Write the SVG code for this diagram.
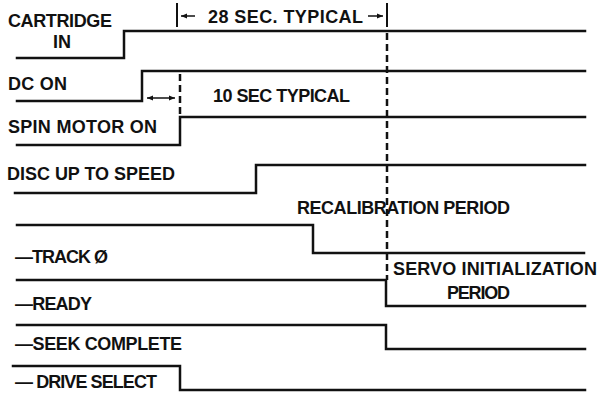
<svg xmlns="http://www.w3.org/2000/svg" width="601" height="393" viewBox="0 0 601 393">
<defs>
<style>
.sig{fill:none;stroke:#111;stroke-width:2.5;stroke-linejoin:miter;stroke-linecap:square}
.t{font-family:"Liberation Sans",Arial,sans-serif;font-size:18px;font-weight:bold;fill:#111}
.dash{fill:none;stroke:#111;stroke-width:2.5;stroke-dasharray:7 4}
.tick{fill:none;stroke:#111;stroke-width:2}
.dim{fill:none;stroke:#111;stroke-width:1.5}
</style>
<marker id="ah" viewBox="0 0 10 10" refX="10" refY="5" markerWidth="6" markerHeight="6" markerUnits="userSpaceOnUse" orient="auto-start-reverse">
<path d="M0,1 L10,5 L0,9 Z" fill="#111"/>
</marker>
</defs>
<rect width="601" height="393" fill="#fff"/>
<g id="cartridge-in">
<path class="sig" d="M17,58 H124 V31 H585"/>
<text class="t" x="8" y="27" textLength="104">CARTRIDGE</text>
<text class="t" x="53" y="48">IN</text>
</g>
<g id="dc-on">
<path class="sig" d="M17,101 H142 V71 H585"/>
<text class="t" x="8" y="90" textLength="59">DC ON</text>
</g>
<g id="spin-motor-on">
<path class="sig" d="M17,145 H180 V117 H585"/>
<text class="t" x="8" y="133" textLength="149">SPIN MOTOR ON</text>
</g>
<g id="disc-up-to-speed">
<path class="sig" d="M15,193 H256 V165 H585"/>
<text class="t" x="7" y="180" textLength="168">DISC UP TO SPEED</text>
</g>
<g id="track0">
<path class="sig" d="M17,225 H313 V253 H584"/>
<text class="t" x="15" y="263" textLength="93">—TRACK Ø</text>
</g>
<g id="ready">
<path class="sig" d="M17,280 H386 V306 H585"/>
<text class="t" x="15" y="310" textLength="77">—READY</text>
</g>
<g id="seek-complete">
<path class="sig" d="M17,325 H386 V349 H585"/>
<text class="t" x="15" y="350" textLength="167">—SEEK COMPLETE</text>
</g>
<g id="drive-select">
<path class="sig" d="M13,366 H180 V390 H585"/>
<text class="t" x="15" y="388" textLength="142">— DRIVE SELECT</text>
</g>
<g id="annotations">
<text class="t" x="208" y="23" textLength="155">28 SEC. TYPICAL</text>
<text class="t" x="213" y="102" textLength="137">10 SEC TYPICAL</text>
<text class="t" x="297" y="214" textLength="213">RECALIBRATION PERIOD</text>
<text class="t" x="393" y="275" textLength="204">SERVO INITIALIZATION</text>
<text class="t" x="447" y="299" textLength="63">PERIOD</text>
</g>
<g id="connectors">
<line class="tick" x1="177" y1="3" x2="177" y2="27"/>
<line class="tick" x1="387" y1="3" x2="387" y2="27"/>
<line class="dim" x1="195" y1="16" x2="181" y2="16" marker-end="url(#ah)"/>
<line class="dim" x1="368" y1="16" x2="383" y2="16" marker-end="url(#ah)"/>
<line class="dim" x1="147" y1="98" x2="175" y2="98" marker-start="url(#ah)" marker-end="url(#ah)"/>
<line class="dash" x1="387" y1="33" x2="387" y2="280"/>
<line class="dash" x1="180" y1="74" x2="180" y2="117"/>
</g>
</svg>
